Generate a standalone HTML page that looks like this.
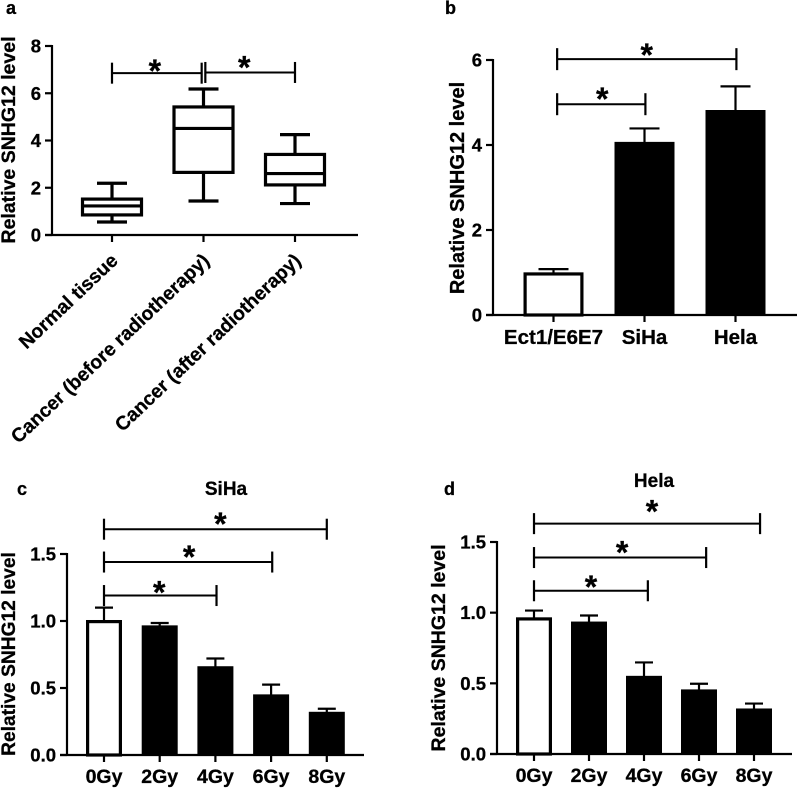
<!DOCTYPE html>
<html lang="en">
<head>
<meta charset="utf-8">
<title>Relative SNHG12 level charts</title>
<style>
html,body{margin:0;padding:0;background:#fff;}
svg{display:block;filter:blur(0.3px);}
text{font-family:"Liberation Sans",Arial,sans-serif;font-weight:bold;fill:#000;stroke:#000;stroke-width:0.3px;}
</style>
</head>
<body>
<svg id="figure" width="797" height="788" viewBox="0 0 797 788" xmlns="http://www.w3.org/2000/svg"></svg>
<script>
// Panel a: box plot
const aCategories = ['Normal tissue', 'Cancer (before radiotherapy)', 'Cancer (after radiotherapy)'];
const aMin = [0.55, 1.44, 1.33];
const aQ1 = [0.85, 2.65, 2.12];
const aMedian = [1.23, 4.51, 2.6];
const aQ3 = [1.52, 5.42, 3.41];
const aMax = [2.19, 6.18, 4.25];
const aTicks = ['0', '2', '4', '6', '8'];
const aBracketStart = [0, 1.02];
const aBracketEnd = [0.98, 2];
const aBracketLevel = [6.85, 6.88];

// Panel b: bars
const bCategories = ['Ect1/E6E7', 'SiHa', 'Hela'];
const bValues = [0.98, 4.05, 4.8];
const bUpper = [1.08, 4.39, 5.38];
const bTicks = ['0', '2', '4', '6'];
const bBracketStart = [0.04, 0.04];
const bBracketEnd = [1.01, 2.01];
const bBracketLevel = [4.96, 6.02];

// Panel c: SiHa bars
const cCategories = ['0Gy', '2Gy', '4Gy', '6Gy', '8Gy'];
const cValues = [1.0, 0.96, 0.655, 0.445, 0.315];
const cUpper = [1.1, 0.985, 0.72, 0.525, 0.345];
const cTicks = ['0.0', '0.5', '1.0', '1.5'];
const cBracketStart = [0, 0, 0];
const cBracketEnd = [2.02, 3.02, 4];
const cBracketLevel = [1.19, 1.44, 1.685];

// Panel d: Hela bars
const dCategories = ['0Gy', '2Gy', '4Gy', '6Gy', '8Gy'];
const dValues = [0.96, 0.93, 0.546, 0.45, 0.315];
const dUpper = [1.015, 0.98, 0.648, 0.497, 0.357];
const dTicks = ['0.0', '0.5', '1.0', '1.5'];
const dBracketStart = [0, 0, 0];
const dBracketEnd = [2.07, 3.13, 4.11];
const dBracketLevel = [1.155, 1.39, 1.63];

const svg = document.getElementById('figure');
const NS = 'http://www.w3.org/2000/svg';

function shape(parent, tag, props, name) {
  const el = document.createElementNS(NS, tag);
  for (const k in props) el.setAttribute(k, props[k]);
  
  
  parent.appendChild(el);
  return el;
}
function line(parent, x1, y1, x2, y2, w, name) {
  return shape(parent, 'line', {x1: x1, y1: y1, x2: x2, y2: y2, stroke: '#000', 'stroke-width': w}, name);
}
function label(parent, str, x, y, size, anchor, name, transform) {
  const props = {x: x, y: y, 'font-size': size, 'text-anchor': anchor};
  if (transform) props.transform = transform;
  const el = shape(parent, 'text', props, name);
  el.textContent = str;
  return el;
}

function makeAxes(cfg) {
  const g = shape(svg, 'g', {}, cfg.id + '-panel');
  const maxVal = cfg.maxVal;
  const yScale = v => cfg.y0 - (v / maxVal) * (cfg.y0 - cfg.yTop);
  const xScale = i => cfg.x0 + i * cfg.step;
  line(g, cfg.axisX, cfg.yTop - 1, cfg.axisX, cfg.y0 + 1, 2.2, 'y-axis');
  line(g, cfg.axisX - 7, cfg.y0, cfg.axisEnd, cfg.y0, 2.2, 'x-axis');
  cfg.ticks.forEach(t => {
    const y = yScale(parseFloat(t));
    line(g, cfg.axisX - 7, y, cfg.axisX, y, 2.2, 'y-tick');
    label(g, t, cfg.axisX - 11, y + 6.5, cfg.tickSize, 'end', 'y-tick-label');
  });
  cfg.categories.forEach((c, i) => {
    line(g, xScale(i), cfg.y0, xScale(i), cfg.y0 + 7, 2.2, 'x-tick');
  });
  label(g, 'Relative SNHG12 level', 0, 0, cfg.titleSize, 'middle', 'y-axis-title',
    'translate(' + cfg.titleX + ',' + cfg.titleY + ') rotate(-90)');
  return {g: g, yScale: yScale, xScale: xScale};
}

function drawBrackets(ctx, starts, ends, levels, stars, half) {
  levels.forEach((lv, i) => {
    const y = ctx.yScale(lv);
    const x1 = ctx.xScale(starts[i]);
    const x2 = ctx.xScale(ends[i]);
    line(ctx.g, x1, y, x2, y, 2, 'significance-bracket');
    line(ctx.g, x1, y - half, x1, y + half, 2.2, 'bracket-left-cap');
    line(ctx.g, x2, y - half, x2, y + half, 2.2, 'bracket-right-cap');
    label(ctx.g, '*', (x1 + x2) / 2 + stars[i][0], y + stars[i][1], 32, 'middle', 'significance-star');
  });
}

function drawBars(ctx, values, upper, width, capHalf, lw) {
  values.forEach((v, i) => {
    const x = ctx.xScale(i);
    const top = ctx.yScale(v);
    const y0 = ctx.yScale(0);
    line(ctx.g, x, top, x, ctx.yScale(upper[i]), 2.2, 'error-bar');
    line(ctx.g, x - capHalf, ctx.yScale(upper[i]), x + capHalf, ctx.yScale(upper[i]), 2.2, 'error-cap');
    if (i === 0) {
      shape(ctx.g, 'rect', {x: x - width / 2 + lw / 2, y: top + lw / 2 - 1, width: width - lw, height: y0 - top - lw / 2 + 1,
        fill: '#fff', stroke: '#000', 'stroke-width': lw}, 'control-bar');
    } else {
      shape(ctx.g, 'rect', {x: x - width / 2, y: top - 1, width: width, height: y0 - top + 1, fill: '#000'}, 'treatment-bar');
    }
  });
}

// Panel a
const ctxA = makeAxes({id: 'a', categories: aCategories, ticks: aTicks, maxVal: 8, x0: 112, step: 91.5,
  y0: 235, yTop: 46, axisX: 52, axisEnd: 358, tickSize: 18.5, titleSize: 19.5, titleX: 15, titleY: 140});
aCategories.forEach((c, i) => {
  const x = ctxA.xScale(i);
  const w = 59;
  const q1 = ctxA.yScale(aQ1[i]), q3 = ctxA.yScale(aQ3[i]), med = ctxA.yScale(aMedian[i]);
  const lo = ctxA.yScale(aMin[i]), hi = ctxA.yScale(aMax[i]);
  line(ctxA.g, x, q3, x, hi, 3.2, 'whisker-upper');
  line(ctxA.g, x, q1, x, lo, 3.2, 'whisker-lower');
  line(ctxA.g, x - 15, hi, x + 15, hi, 3.2, 'whisker-cap-upper');
  line(ctxA.g, x - 15, lo, x + 15, lo, 3.2, 'whisker-cap-lower');
  shape(ctxA.g, 'rect', {x: x - w / 2, y: q3, width: w, height: q1 - q3, fill: '#fff', stroke: '#000', 'stroke-width': 3.2}, 'box');
  line(ctxA.g, x - w / 2, med, x + w / 2, med, 3.2, 'median-line');
  label(ctxA.g, c, 0, 0, 19.3, 'end', 'x-tick-label', 'translate(' + (x + 7) + ',262) rotate(-43.5)');
});
drawBrackets(ctxA, aBracketStart, aBracketEnd, aBracketLevel, [[-2, 9], [-6, 6]], 10.5);

// Panel b
const ctxB = makeAxes({id: 'b', categories: bCategories, ticks: bTicks, maxVal: 6, x0: 553.5, step: 91,
  y0: 315, yTop: 60, axisX: 493, axisEnd: 797, tickSize: 18.5, titleSize: 20, titleX: 464, titleY: 188});
drawBars(ctxB, bValues, bUpper, 60, 15, 3.2);
bCategories.forEach((c, i) => {
  label(ctxB.g, c, ctxB.xScale(i), 344, 20.5, 'middle', 'x-tick-label');
});
drawBrackets(ctxB, bBracketStart, bBracketEnd, bBracketLevel, [[1, 6], [0, 7]], 11);

// Panel c
const ctxC = makeAxes({id: 'c', categories: cCategories, ticks: cTicks, maxVal: 1.5, x0: 104, step: 55.7,
  y0: 755, yTop: 554, axisX: 67, axisEnd: 364, tickSize: 18.5, titleSize: 19.2, titleX: 15, titleY: 654});
drawBars(ctxC, cValues, cUpper, 36, 9, 3.2);
cCategories.forEach((c, i) => {
  label(ctxC.g, c, ctxC.xScale(i), 783, 19.5, 'middle', 'x-tick-label');
});
drawBrackets(ctxC, cBracketStart, cBracketEnd, cBracketLevel, [[-1, 8], [1, 6], [5, 6]], 10.5);

// Panel d
const ctxD = makeAxes({id: 'd', categories: dCategories, ticks: dTicks, maxVal: 1.5, x0: 534, step: 55,
  y0: 754, yTop: 542, axisX: 497, axisEnd: 792, tickSize: 18.5, titleSize: 19.5, titleX: 445, titleY: 648});
drawBars(ctxD, dValues, dUpper, 36, 9, 3.2);
dCategories.forEach((c, i) => {
  label(ctxD.g, c, ctxD.xScale(i), 782, 19.5, 'middle', 'x-tick-label');
});
drawBrackets(ctxD, dBracketStart, dBracketEnd, dBracketLevel, [[0, 7], [2, 6], [5, -1]], 10.5);

label(svg, 'a', 6, 14, 18, 'start', 'panel-a-label');
label(svg, 'b', 445, 14, 18, 'start', 'panel-b-label');
label(svg, 'c', 17, 495, 18, 'start', 'panel-c-label');
label(svg, 'd', 444, 495, 18, 'start', 'panel-d-label');
label(svg, 'SiHa', 226, 495, 19, 'middle', 'panel-c-title');
label(svg, 'Hela', 654, 487, 19, 'middle', 'panel-d-title');
</script>
</body>
</html>
